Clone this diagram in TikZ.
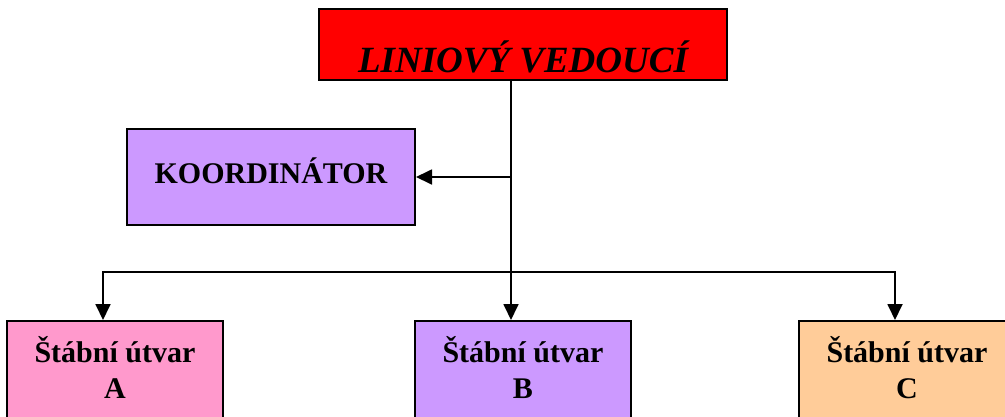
\documentclass[tikz,border=0pt]{standalone}
\usepackage{fontspec}
\setmainfont{Liberation Serif}
\usetikzlibrary{arrows.meta}
\definecolor{lilac}{HTML}{CC99FF}
\definecolor{rosy}{HTML}{FF99CC}
\definecolor{apricot}{HTML}{FFCC99}

\begin{document}
\begin{tikzpicture}[x=1pt, y=-1pt,
		box/.style = {draw = black, line width = 2pt, inner sep = 0pt, align = center, font = \bfseries\fontsize{30}{36}\selectfont},
		unit/.style = {box, anchor = north, minimum width = 216pt, minimum height = 110pt, text depth = 18pt},
		link/.style = {line width = 1.8pt, -{Triangle[length=16pt, width=15pt]}}]
		\useasboundingbox (0,0) rectangle (1005,416);
		
		\node [box, fill = red, minimum width = 408pt, minimum height = 71pt, text height = 55pt, text depth = 0pt, font = \bfseries\itshape\fontsize{37}{44}\selectfont] (lead) at (523, 44.5) {LINIOVÝ VEDOUCÍ};
		\node [box, fill = lilac, minimum width = 288pt, minimum height = 96pt, text height = 20pt, text depth = 8pt] (coord) at (271, 177) {KOORDINÁTOR};
		
		\node [unit, fill = rosy] (unitA) at (115, 320) {Štábní útvar\\A};
		\node [unit, fill = lilac] (unitB) at (523, 320) {Štábní útvar\\B};
		\node [unit, fill = apricot] (unitC) at (907, 320) {Štábní útvar\\C};
		
		\coordinate (bus) at (511, 272);
		\draw [link] (lead.south -| bus) -- (unitB.north -| bus);
		\draw [link] (lead.south -| bus) |- (coord.east);
		\draw [link, {Triangle[length=16pt, width=15pt]}-{Triangle[length=16pt, width=15pt]}] ([xshift=-12pt]unitA.north) |- (bus) -| ([xshift=-12pt]unitC.north);
		
\end{tikzpicture}
\end{document}
